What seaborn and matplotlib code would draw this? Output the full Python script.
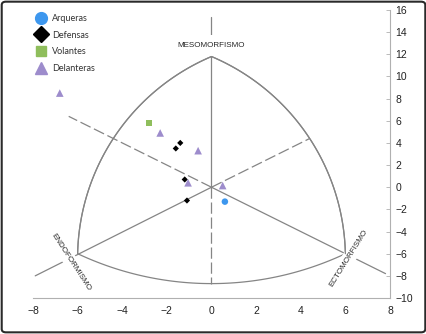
import numpy as np
import pandas as pd
import seaborn as sns
import matplotlib.pyplot as plt
from matplotlib.patches import FancyBboxPatch
from matplotlib.lines import Line2D

# somatotype points (x = ecto - endo, y = 2*meso - (endo + ecto))
pos_labels = ['Arqueras', 'Defensas', 'Volantes', 'Delanteras']
arq_x = [0.6]
arq_y = [-1.3]
def_x = [-1.4, -1.6, -1.2, -1.1]
def_y = [4.0, 3.5, 0.7, -1.2]
vol_x = [-2.8]
vol_y = [5.8]
del_x = [-6.8, -2.3, -0.6, -1.05, 0.5]
del_y = [8.5, 4.9, 3.3, 0.4, 0.15]

# chart frame
apex_endo = (-6, -6)
apex_meso = (0, 11.8)
apex_ecto = (6, -6)
bulge_left = (-4.4, 4.4)
bulge_right = (4.4, 4.4)
bulge_bottom = (0, -8.7)
xticks = list(range(-8, 9, 2))
yticks = list(range(-10, 17, 2))

grey = '#858585'
colors = {'Arqueras': '#3d97ee', 'Defensas': '#000000',
          'Volantes': '#8fbe5c', 'Delanteras': '#9d8ccc'}
markers = {'Arqueras': 'o', 'Defensas': 'D', 'Volantes': 's', 'Delanteras': '^'}
sizes = {'Arqueras': 22, 'Defensas': 10, 'Volantes': 22, 'Delanteras': 30}

df = pd.concat([
    pd.DataFrame({'x': arq_x, 'y': arq_y, 'pos': 'Arqueras'}),
    pd.DataFrame({'x': def_x, 'y': def_y, 'pos': 'Defensas'}),
    pd.DataFrame({'x': vol_x, 'y': vol_y, 'pos': 'Volantes'}),
    pd.DataFrame({'x': del_x, 'y': del_y, 'pos': 'Delanteras'}),
])

sns.set_theme(style='white')
plt.rcParams['font.family'] = ['Liberation Sans', 'DejaVu Sans']

fig = plt.figure(figsize=(4.27, 3.34), dpi=100)
ax = fig.add_axes([33/427, 1-298/334, (390-33)/427, (298-10)/334])

K = 2.01  # screen aspect: px per x unit / px per y unit


def arc(a, m, b, n=80):
    # circle through three points, done in screen-like coordinates
    p = np.array([[a[0]*K, a[1]], [m[0]*K, m[1]], [b[0]*K, b[1]]])
    (x1, y1), (x2, y2), (x3, y3) = p
    d = 2*(x1*(y2-y3) + x2*(y3-y1) + x3*(y1-y2))
    ux = ((x1**2+y1**2)*(y2-y3) + (x2**2+y2**2)*(y3-y1) + (x3**2+y3**2)*(y1-y2))/d
    uy = ((x1**2+y1**2)*(x3-x2) + (x2**2+y2**2)*(x1-x3) + (x3**2+y3**2)*(x2-x1))/d
    r = np.hypot(x1-ux, y1-uy)
    ang = np.unwrap([np.arctan2(y1-uy, x1-ux), np.arctan2(y2-uy, x2-ux),
                     np.arctan2(y3-uy, x3-ux)])
    if not (min(ang[0], ang[2]) <= ang[1] <= max(ang[0], ang[2])):
        ang[2] = ang[2] + (2*np.pi if ang[2] < ang[0] else -2*np.pi)
    t = np.linspace(ang[0], ang[2], n)
    return (ux + r*np.cos(t))/K, uy + r*np.sin(t)


for a, m, b in [(apex_endo, bulge_left, apex_meso),
                (apex_meso, bulge_right, apex_ecto),
                (apex_endo, bulge_bottom, apex_ecto)]:
    xs, ys = arc(a, m, b)
    ax.plot(xs, ys, color=grey, lw=0.9, zorder=1)

# solid axes from centre, extended past the apexes
ax.plot([0, 0], [0, 15.4], color=grey, lw=0.9, zorder=1)
ax.plot([0, -7.9], [0, -8.0], color=grey, lw=0.9, zorder=1)
ax.plot([0, 7.8], [0, -7.8], color=grey, lw=0.9, zorder=1)
# dashed bisectors
dash = (0, (9, 3))
ax.plot([0, -6.4], [0, 6.4], color=grey, lw=0.9, ls=dash, zorder=1)
ax.plot([0, bulge_right[0]], [0, bulge_right[1]], color=grey, lw=0.9, ls=dash, zorder=1)
ax.plot([0, 0], [0, bulge_bottom[1]], color=grey, lw=0.9, ls=dash, zorder=1)

ax.text(0, 12.8, 'MESOMORFISMO', fontsize=5.8, ha='center', va='center',
        bbox=dict(facecolor='white', edgecolor='none', pad=5), zorder=3)
box = dict(facecolor='white', edgecolor='none', pad=2.5)
ax.text(-6.3, -6.75, 'ENDOFORMISMO', fontsize=5.8, ha='center', va='center', rotation=-57,
        rotation_mode='anchor', bbox=box, zorder=3)
ax.text(6.15, -6.4, 'ECTOMORFISMO', fontsize=5.8, ha='center', va='center', rotation=58,
        rotation_mode='anchor', bbox=box, zorder=3)
# keep the apex of the meso arcs on top of the label box
for a, m, b in [(apex_endo, bulge_left, apex_meso), (apex_meso, bulge_right, apex_ecto)]:
    xs, ys = arc(a, m, b)
    ax.plot(xs, ys, color=grey, lw=0.9, zorder=3.5)

for p in pos_labels:
    sub = df[df['pos'] == p]
    sns.scatterplot(data=sub, x='x', y='y', ax=ax, color=colors[p], marker=markers[p],
                    s=sizes[p], edgecolor='none', label=p, zorder=4)

ax.set_xlim(-8, 8)
ax.set_ylim(-10, 16)
ax.set_xticks(xticks)
ax.set_yticks(yticks)
ax.set_xlabel('')
ax.set_ylabel('')
ax.yaxis.tick_right()
for s in ['left', 'top']:
    ax.spines[s].set_visible(False)
for s in ['right', 'bottom']:
    ax.spines[s].set_color('#b0b0b0')
    ax.spines[s].set_linewidth(0.8)
ax.spines['bottom'].set_zorder(0)
ax.tick_params(axis='both', direction='in', length=3, width=0.6, color='#b0b0b0',
               labelsize=7.5, labelcolor='#222222', pad=6)
ax.tick_params(axis='y', pad=4)
ax.patch.set_alpha(0)

handles = [Line2D([], [], ls='', marker=markers[p], color=colors[p], markersize=ms)
           for p, ms in zip(pos_labels, [8.5, 8.5, 7.5, 8.5])]
leg = ax.legend(handles, pos_labels, loc='upper left', bbox_to_anchor=(-0.005, 1.005),
                frameon=False, fontsize=6.5, handlelength=1.0, handletextpad=0.75,
                labelspacing=0.85, borderaxespad=0.2)
for t in leg.get_texts():
    t.set_color('#333333')
    t.set_family(['Lato', 'DejaVu Sans'])

fig.patches.append(FancyBboxPatch((0.004, 0.005), 0.992, 0.99,
                                  boxstyle='round,pad=0,rounding_size=0.01',
                                  transform=fig.transFigure, fill=False,
                                  edgecolor='#2a2a2a', linewidth=1.5))

fig.savefig('out.png', dpi=100)
